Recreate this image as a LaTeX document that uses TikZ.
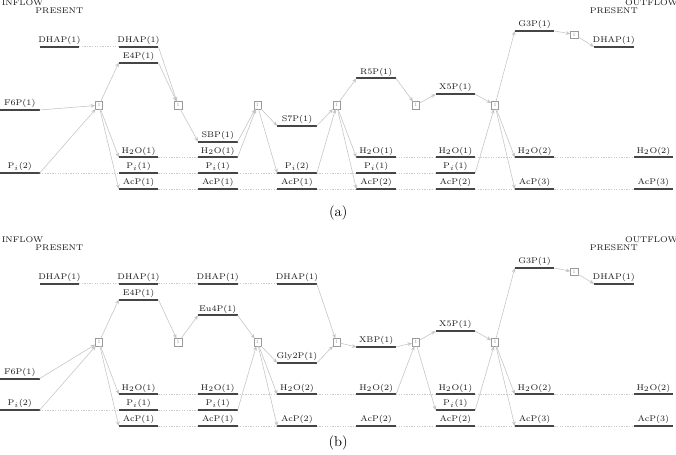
\documentclass[tikz,border=0pt]{standalone}
\usetikzlibrary{arrows.meta}
\definecolor{bargray}{HTML}{454545}
\definecolor{flowgray}{HTML}{C4C4C4}
\definecolor{carrygray}{HTML}{CACACA}
\definecolor{boxgray}{HTML}{9A9A9A}
\tikzset{
  lbl/.style={font=\fontsize{5.8}{7}\selectfont, anchor=base, inner sep=0pt, text=black!90},
  hdr/.style={font=\fontsize{5.8}{7}\selectfont, inner sep=0pt, text=black!90},
  barline/.style={draw=bargray, line width=1.3pt},
  flow/.style={draw=flowgray, line width=0.4pt, -{Stealth[length=3.2pt,width=2.6pt]}},
  carry/.style={draw=carrygray, line width=0.45pt, dash pattern=on 0.9pt off 0.9pt},
  rxn/.style={draw=boxgray, line width=0.35pt, minimum width=5pt, minimum height=5pt, inner sep=0pt,
              font=\fontsize{3.5}{4}\selectfont, text=boxgray},
  sublbl/.style={font=\normalsize, inner sep=0pt}
}
\newcommand\species[4]{%
  \coordinate (#1W) at (#2,#3);
  \coordinate (#1E) at (#2+1,#3);
  \draw[barline] (#1W) -- (#1E);
  \node[lbl] (#1T) at (#2+0.5,#3-0.27) {#4};
}
\newcommand\hdrs[1]{%
  \node[hdr] (#1inflow) at (0.568,-1.78) {INFLOW};
  \node[hdr] (#1presentL) at (1.5,-1.3) {PRESENT};
  \node[hdr] (#1presentR) at (15.5,-1.3) {PRESENT};
  \node[hdr] (#1outflow) at (16.45,-1.78) {OUTFLOW};
}
\begin{document}
\begin{tikzpicture}[x=27.72pt,y=-11.06pt]
\useasboundingbox (0,-1.962) rectangle (17.071,26.835);

% ================= (a) =================
\hdrs{a}
\species{aF6Pz}{0}{5}{F6P(1)}
\species{aPiz}{0}{9}{P$_i$(2)}
\species{aDHAPz}{1}{1}{DHAP(1)}
% col 1
\species{aDHAPa}{3}{1}{DHAP(1)}
\species{aEFPa}{3}{2}{E4P(1)}
\species{aHOa}{3}{8}{H$_2$O(1)}
\species{aPia}{3}{9}{P$_i$(1)}
\species{aAcPa}{3}{10}{AcP(1)}
% col 2
\species{aSBPb}{5}{7}{SBP(1)}
\species{aHOb}{5}{8}{H$_2$O(1)}
\species{aPib}{5}{9}{P$_i$(1)}
\species{aAcPb}{5}{10}{AcP(1)}
% col 3
\species{aSSPc}{7}{6}{S7P(1)}
\species{aPic}{7}{9}{P$_i$(2)}
\species{aAcPc}{7}{10}{AcP(1)}
% col 4
\species{aRFPd}{9}{3}{R5P(1)}
\species{aHOd}{9}{8}{H$_2$O(1)}
\species{aPid}{9}{9}{P$_i$(1)}
\species{aAcPd}{9}{10}{AcP(2)}
% col 5
\species{aXFPe}{11}{4}{X5P(1)}
\species{aHOe}{11}{8}{H$_2$O(1)}
\species{aPie}{11}{9}{P$_i$(1)}
\species{aAcPe}{11}{10}{AcP(2)}
% col 6
\species{aGTPf}{13}{0}{G3P(1)}
\species{aHOf}{13}{8}{H$_2$O(2)}
\species{aAcPf}{13}{10}{AcP(3)}
% col 7 / outflow
\species{aDHAPg}{15}{1}{DHAP(1)}
\species{aHOo}{16}{8}{H$_2$O(2)}
\species{aAcPo}{16}{10}{AcP(3)}
% reactions
\node[rxn] (ar1) at (2.5,4.7) {1};
\node[rxn] (ar2) at (4.5,4.7) {1};
\node[rxn] (ar3) at (6.5,4.7) {1};
\node[rxn] (ar4) at (8.5,4.7) {1};
\node[rxn] (ar5) at (10.5,4.7) {1};
\node[rxn] (ar6) at (12.5,4.7) {1};
\node[rxn] (ar7) at (14.5,0.22) {1};
% carries
\foreach \p/\q in {aDHAPz/aDHAPa, aPiz/aPia, aHOa/aHOb, aPia/aPib, aAcPa/aAcPb,
  aPib/aPic, aAcPb/aAcPc, aPic/aPid, aAcPc/aAcPd, aHOd/aHOe, aPid/aPie, aAcPd/aAcPe,
  aHOe/aHOf, aAcPe/aAcPf, aHOf/aHOo, aAcPf/aAcPo}
  \draw[carry] (\p E) -- (\q W);
% flows
\foreach \p/\r in {aF6Pz/ar1, aPiz/ar1, aDHAPa/ar2, aEFPa/ar2, aSBPb/ar3, aHOb/ar3,
  aSSPc/ar4, aPic/ar4, aRFPd/ar5, aXFPe/ar6, aPie/ar6, aGTPf/ar7}
  \draw[flow] (\p E) -- (\r);
\foreach \r/\q in {ar1/aEFPa, ar1/aHOa, ar1/aAcPa, ar2/aSBPb, ar3/aSSPc, ar3/aPic,
  ar4/aRFPd, ar4/aHOd, ar4/aAcPd, ar5/aXFPe, ar6/aGTPf, ar6/aHOf, ar6/aAcPf, ar7/aDHAPg}
  \draw[flow] (\r) -- (\q W);
\node[sublbl] (alabel) at (8.54,11.52) {(a)};

% ================= (b) =================
\begin{scope}[shift={(0,15)}]
\hdrs{b}
\species{bFSPz}{0}{7}{F6P(1)}
\species{bPiz}{0}{9}{P$_i$(2)}
\species{bDHAPz}{1}{1}{DHAP(1)}
% col 1
\species{bDHAPa}{3}{1}{DHAP(1)}
\species{bEFPa}{3}{2}{E4P(1)}
\species{bHOa}{3}{8}{H$_2$O(1)}
\species{bPia}{3}{9}{P$_i$(1)}
\species{bAcPa}{3}{10}{AcP(1)}
% col 2
\species{bDHAPb}{5}{1}{DHAP(1)}
\species{bEuPb}{5}{3}{Eu4P(1)}
\species{bHOb}{5}{8}{H$_2$O(1)}
\species{bPib}{5}{9}{P$_i$(1)}
\species{bAcPb}{5}{10}{AcP(1)}
% col 3
\species{bDHAPc}{7}{1}{DHAP(1)}
\species{bGlyc}{7}{6}{Gly2P(1)}
\species{bHOc}{7}{8}{H$_2$O(2)}
\species{bAcPc}{7}{10}{AcP(2)}
% col 4
\species{bXBPd}{9}{5}{XBP(1)}
\species{bHOd}{9}{8}{H$_2$O(2)}
\species{bAcPd}{9}{10}{AcP(2)}
% col 5
\species{bXFPe}{11}{4}{X5P(1)}
\species{bHOe}{11}{8}{H$_2$O(1)}
\species{bPie}{11}{9}{P$_i$(1)}
\species{bAcPe}{11}{10}{AcP(2)}
% col 6
\species{bGTPf}{13}{0}{G3P(1)}
\species{bHOf}{13}{8}{H$_2$O(2)}
\species{bAcPf}{13}{10}{AcP(3)}
% col 7 / outflow
\species{bDHAPg}{15}{1}{DHAP(1)}
\species{bHOo}{16}{8}{H$_2$O(2)}
\species{bAcPo}{16}{10}{AcP(3)}
% reactions
\node[rxn] (br1) at (2.5,4.7) {1};
\node[rxn] (br2) at (4.5,4.7) {1};
\node[rxn] (br3) at (6.5,4.7) {1};
\node[rxn] (br4) at (8.5,4.7) {1};
\node[rxn] (br5) at (10.5,4.7) {1};
\node[rxn] (br6) at (12.5,4.7) {1};
\node[rxn] (br7) at (14.5,0.25) {1};
% carries
\foreach \p/\q in {bDHAPz/bDHAPa, bDHAPa/bDHAPb, bDHAPb/bDHAPc, bPiz/bPia,
  bHOa/bHOb, bPia/bPib, bAcPa/bAcPb, bHOb/bHOc, bAcPb/bAcPc, bHOc/bHOd, bAcPc/bAcPd,
  bHOd/bHOe, bAcPd/bAcPe, bHOe/bHOf, bAcPe/bAcPf, bHOf/bHOo, bAcPf/bAcPo}
  \draw[carry] (\p E) -- (\q W);
% flows
\foreach \p/\r in {bFSPz/br1, bPiz/br1, bEFPa/br2, bEuPb/br3, bPib/br3,
  bDHAPc/br4, bGlyc/br4, bXBPd/br5, bHOd/br5, bXFPe/br6, bPie/br6, bGTPf/br7}
  \draw[flow] (\p E) -- (\r);
\foreach \r/\q in {br1/bEFPa, br1/bHOa, br1/bAcPa, br2/bEuPb, br3/bGlyc, br3/bHOc, br3/bAcPc,
  br4/bXBPd, br5/bXFPe, br5/bPie, br6/bGTPf, br6/bHOf, br6/bAcPf, br7/bDHAPg}
  \draw[flow] (\r) -- (\q W);
\node[sublbl] (blabel) at (8.54,11.05) {(b)};
\end{scope}
\end{tikzpicture}
\end{document}
